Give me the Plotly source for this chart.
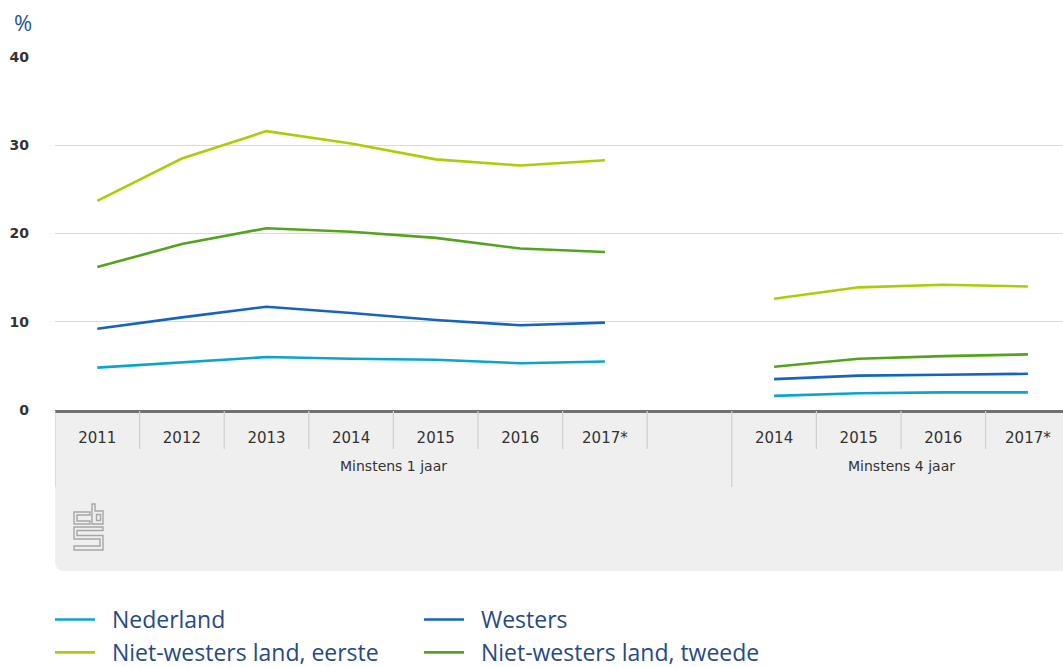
import plotly.graph_objects as go

# Categories: two groups of years, separated by an empty slot
years_1 = ["2011", "2012", "2013", "2014", "2015", "2016", "2017*"]
years_4 = ["2014", "2015", "2016", "2017*"]
group_labels = ["Minstens 1 jaar", "Minstens 4 jaar"]

# Percentages per origin group (first block: at least 1 year, second: at least 4 years)
nederland_1 = [4.8, 5.4, 6.0, 5.8, 5.7, 5.3, 5.5]
nederland_4 = [1.6, 1.9, 2.0, 2.0]
westers_1 = [9.2, 10.5, 11.7, 11.0, 10.2, 9.6, 9.9]
westers_4 = [3.5, 3.9, 4.0, 4.1]
eerste_1 = [23.7, 28.5, 31.6, 30.2, 28.4, 27.7, 28.3]
eerste_4 = [12.6, 13.9, 14.2, 14.0]
tweede_1 = [16.2, 18.8, 20.6, 20.2, 19.5, 18.3, 17.9]
tweede_4 = [4.9, 5.8, 6.1, 6.3]

series = [
    ("Nederland", nederland_1, nederland_4, "#0aa3d3"),
    ("Westers", westers_1, westers_4, "#1464c0"),
    ("Niet-westers land, eerste", eerste_1, eerste_4, "#afcb05"),
    ("Niet-westers land, tweede", tweede_1, tweede_4, "#53a31d"),
]

n1 = len(years_1)
gap = 1
x_positions = list(range(n1 + gap + len(years_4)))
tick_text = years_1 + [""] * gap + years_4

W, H = 1063, 667
L, R, T, B = 55, 0, 57, 257
PW, PH = W - L - R, H - T - B


def px(x, y):
    """pixel -> paper coordinates"""
    return (x - L) / PW, (H - B - y) / PH


fig = go.Figure()
for name, v1, v4, color in series:
    y = list(v1) + [None] * gap + list(v4)
    fig.add_trace(go.Scatter(
        x=x_positions, y=y, mode="lines",
        name="\u00a0\u00a0" + name,
        line=dict(color=color, width=2.6),
        connectgaps=False, hoverinfo="skip",
    ))

shapes = []
# grey category panel with rounded bottom corners
x0, y0 = px(55, 410)
x1, y1 = px(1070, 571)
r = 10
ax0, _ = px(55 + r, 0)
_, ay1 = px(0, 571 - r)
shapes.append(dict(
    type="path", xref="paper", yref="paper", layer="below",
    path=(f"M {x0},{y0} L {x1},{y0} L {x1},{y1} L {ax0},{y1} "
          f"Q {x0},{y1} {x0},{ay1} Z"),
    fillcolor="#efefef", line=dict(width=0),
))

# dividers between category cells
_, yd0 = px(0, 411)
_, yd_short = px(0, 449)
_, yd_long = px(0, 487)
for k in range(len(x_positions)):
    xb = k - 0.5
    long_div = k in (0, n1 + gap)
    shapes.append(dict(
        type="line", xref="x", yref="paper", x0=xb, x1=xb,
        y0=yd0, y1=yd_long if long_div else yd_short,
        line=dict(color="#cfcfcf", width=1.2),
    ))


# logo drawn as outlined paths
def path_from(points, close=False):
    parts = []
    for i, (a, b) in enumerate(points):
        xa, yb = px(a, b)
        parts.append(("M" if i == 0 else "L") + f" {xa},{yb}")
    return " ".join(parts) + (" Z" if close else "")


logo_paths = [
    [(90, 512), (74, 512), (74, 524), (90, 524), (90, 521), (77, 521), (77, 515), (90, 515)],
    [(92, 504), (95, 504), (95, 511), (103, 511), (103, 524), (92, 524)],
    [(96.5, 514.5), (100.5, 514.5), (100.5, 520.5), (96.5, 520.5)],
    [(103, 527), (74, 527), (74, 539), (100, 539), (100, 546), (74, 546), (74, 550),
     (103, 550), (103, 535.5), (77, 535.5), (77, 530.5), (103, 530.5)],
]
for pts in logo_paths:
    shapes.append(dict(
        type="path", xref="paper", yref="paper",
        path=path_from(pts, close=True),
        line=dict(color="#a6a6a6", width=1.4), fillcolor="rgba(0,0,0,0)",
    ))

annotations = []
# group labels under the year labels
_, yg = px(0, 466)
group_centers = [(-0.5 + n1 + gap - 0.5) / 2, (n1 + gap - 0.5 + len(x_positions) - 0.5) / 2]
for lbl, xc in zip(group_labels, group_centers):
    annotations.append(dict(
        text=lbl, x=xc, y=yg, xref="x", yref="paper", showarrow=False,
        font=dict(family="DejaVu Sans", size=14, color="#333333"),
        xanchor="center", yanchor="middle",
    ))
# unit label
xu, yu = px(23, 22)
annotations.append(dict(
    text="%", x=xu, y=yu, xref="paper", yref="paper", showarrow=False,
    font=dict(family="Open Sans", size=22, color="#2a5490"),
    xanchor="center", yanchor="middle",
))

fig.update_layout(
    width=W, height=H,
    margin=dict(l=L, r=R, t=T, b=B, pad=0, autoexpand=False),
    paper_bgcolor="white", plot_bgcolor="white",
    shapes=shapes, annotations=annotations,
    showlegend=True,
    legend=dict(
        orientation="h", x=-0.005, xanchor="left", y=px(0, 598)[1], yanchor="top",
        font=dict(family="Open Sans", size=23, color="#274a85"),
        entrywidth=314, entrywidthmode="pixels",
        tracegroupgap=0, itemwidth=40, bgcolor="rgba(0,0,0,0)",
    ),
    xaxis=dict(
        range=[-0.5, -0.5 + PW / 84.6], tickmode="array",
        tickvals=x_positions, ticktext=tick_text,
        showgrid=False, zeroline=False, ticks="",
        showline=True, linecolor="#707070", linewidth=3,
        tickfont=dict(family="DejaVu Sans", size=15, color="#333333"),
        ticklabelstandoff=12, fixedrange=True,
    ),
    yaxis=dict(
        range=[0, 40], tickvals=[0, 10, 20, 30, 40],
        showgrid=True, gridcolor="#dadada", gridwidth=1.3,
        zeroline=False, ticks="", showline=False,
        tickfont=dict(family="DejaVu Sans", size=14, color="#333333", weight="bold"),
        ticklabelstandoff=25, fixedrange=True,
    ),
)

fig.write_html("out.html")
